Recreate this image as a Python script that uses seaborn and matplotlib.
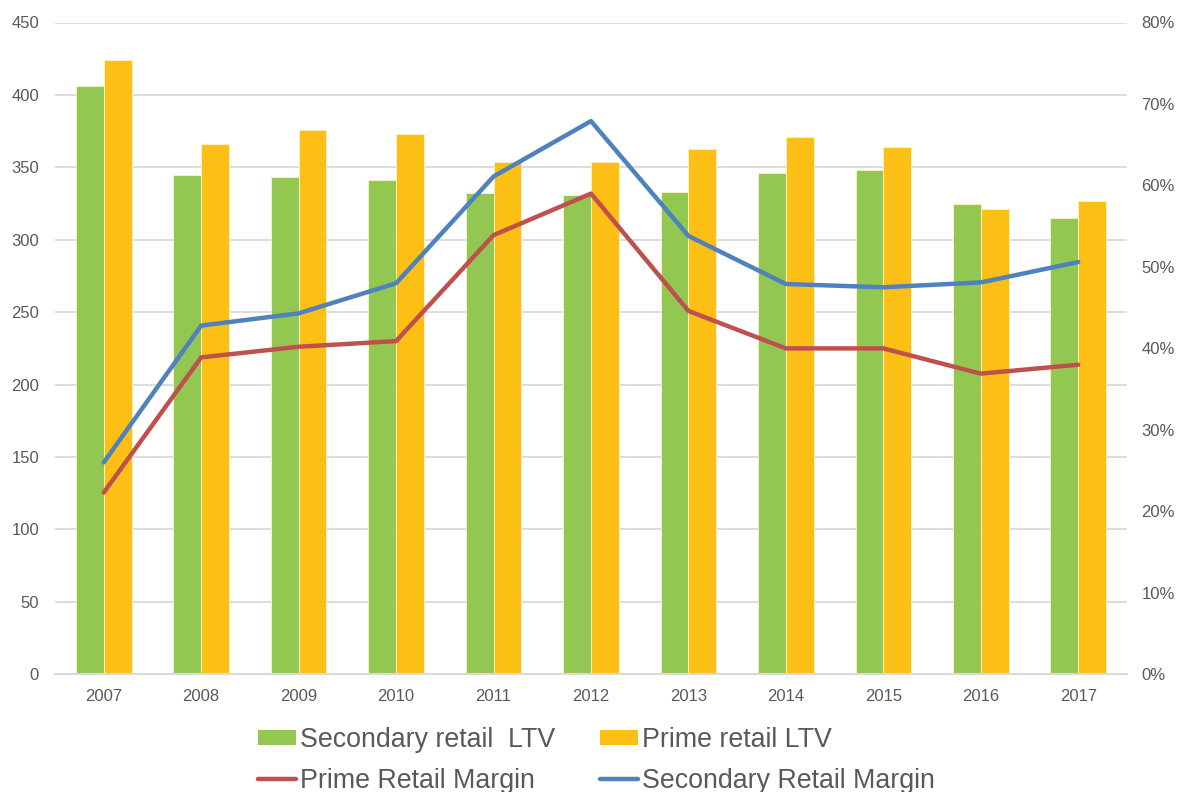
import numpy as np
import pandas as pd
import matplotlib
matplotlib.use("Agg")
import matplotlib.pyplot as plt
import seaborn as sns
from matplotlib.ticker import FuncFormatter, MultipleLocator
from matplotlib.patches import Patch
from matplotlib.lines import Line2D

# Retail loan-to-value (left axis) and margins (right axis), 2007-2017
years = ["2007", "2008", "2009", "2010", "2011", "2012",
         "2013", "2014", "2015", "2016", "2017"]
secondary_ltv = [406, 345, 343, 341, 332, 331, 333, 346, 348, 325, 315]
prime_ltv = [424, 366, 376, 373, 354, 354, 363, 371, 364, 321.5, 326.5]
prime_margin = [22.3, 38.9, 40.2, 40.9, 53.9, 59.0, 44.6, 40.0, 40.0, 36.9, 38.0]
secondary_margin = [26.0, 42.8, 44.3, 48.0, 61.1, 67.9, 53.8, 47.9, 47.5, 48.1, 50.6]

bar_labels = ["Secondary retail  LTV", "Prime retail LTV"]
line_labels = ["Prime Retail Margin", "Secondary Retail Margin"]

GREEN = "#92C852"
GOLD = "#FCBF15"
RED = "#C0504D"
BLUE = "#4F81BD"
TEXT = "#595959"
GRID = "#D9D9D9"

sns.set_theme(style="white")
plt.rcParams["font.family"] = ["Liberation Sans", "DejaVu Sans"]

bars = pd.DataFrame({
    "year": years * 2,
    "value": secondary_ltv + prime_ltv,
    "series": [bar_labels[0]] * len(years) + [bar_labels[1]] * len(years),
})

fig = plt.figure(figsize=(11.85, 7.92), dpi=100)
ax = fig.add_axes([55 / 1185, 1 - 674.3 / 792, (1127 - 55) / 1185, (674.3 - 22.5) / 792])

sns.barplot(data=bars, x="year", y="value", hue="series", order=years,
            hue_order=bar_labels, palette=[GREEN, GOLD], saturation=1,
            width=0.57, edgecolor="#FFF3C8", linewidth=0.6, ax=ax,
            legend=False, zorder=2)

ax.set_ylim(0, 450)
ax.yaxis.set_major_locator(MultipleLocator(50))
ax.set_xlim(-0.5, len(years) - 0.5)
ax.grid(axis="y", color=GRID, linewidth=1.3, zorder=0)
ax.set_axisbelow(True)
for side in ["top", "right", "left"]:
    ax.spines[side].set_visible(False)
ax.spines["bottom"].set_color(GRID)
ax.spines["bottom"].set_linewidth(1.5)
ax.set_xlabel("")
ax.set_ylabel("")
ax.tick_params(axis="both", length=0, labelsize=12, labelcolor=TEXT)
ax.tick_params(axis="y", pad=11.5)
ax.tick_params(axis="x", pad=10.5)

ax2 = ax.twinx()
pos = np.arange(len(years))
lines = pd.DataFrame({
    "pos": np.concatenate([pos, pos]),
    "margin": prime_margin + secondary_margin,
    "series": [line_labels[0]] * len(years) + [line_labels[1]] * len(years),
})
sns.lineplot(data=lines, x="pos", y="margin", hue="series", hue_order=line_labels,
             palette=[RED, BLUE], linewidth=3.2, ax=ax2, legend=False)
ax2.set_ylim(0, 80)
ax2.yaxis.set_major_locator(MultipleLocator(10))
ax2.yaxis.set_major_formatter(FuncFormatter(lambda v, _: f"{v:.0f}%"))
ax2.set_xlim(-0.5, len(years) - 0.5)
for side in ["top", "right", "left", "bottom"]:
    ax2.spines[side].set_visible(False)
ax2.set_xlabel("")
ax2.set_ylabel("")
ax2.tick_params(axis="y", length=0, labelsize=12, labelcolor=TEXT, pad=10.5)

# Legend: bars in the first row, lines in the second
handles = [Patch(facecolor=GREEN, edgecolor="none"),
           Line2D([0], [0], color=RED, linewidth=3.2),
           Patch(facecolor=GOLD, edgecolor="none"),
           Line2D([0], [0], color=BLUE, linewidth=3.2)]
labels = [bar_labels[0], line_labels[0], bar_labels[1], line_labels[1]]
fig.legend(handles, labels, loc="upper left",
           bbox_to_anchor=(258 / 1185, 1 - 727 / 792), ncol=2, frameon=False,
           fontsize=19.3, labelcolor=TEXT, handlelength=1.4, handleheight=0.5,
           handletextpad=0.15, columnspacing=1.7, borderpad=0, borderaxespad=0,
           labelspacing=0.55)

fig.savefig("out.png", dpi=100)
